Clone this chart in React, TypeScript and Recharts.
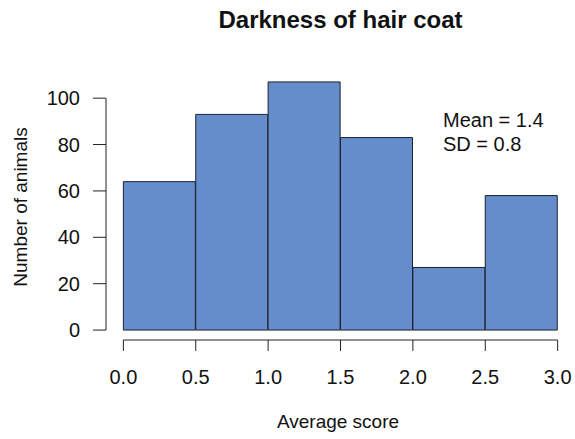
import { ComposedChart, Bar, XAxis, YAxis, ReferenceLine } from "recharts";

const binStarts = [0, 0.5, 1.0, 1.5, 2.0, 2.5];
const binWidth = 0.5;
const counts = [64, 93, 107, 83, 27, 58];
const xTicks = [0, 0.5, 1, 1.5, 2, 2.5, 3];
const yTicks = [0, 20, 40, 60, 80, 100];
const statLines = ["Mean = 1.4", "SD = 0.8"];

const title = "Darkness of hair coat";
const xTitle = "Average score";
const yTitle = "Number of animals";

const data = binStarts.map((s, i) => ({ mid: s + binWidth / 2, count: counts[i] }));

// R-style 4% range extension
const xMin = binStarts[0];
const xMax = binStarts[binStarts.length - 1] + binWidth;
const yMax = Math.max(...counts);
const xPad = (xMax - xMin) * 0.04;
const yPad = yMax * 0.04;
const xDomain = [xMin - xPad, xMax + xPad];
const yDomain = [-yPad, yMax + yPad];

const font = "'Liberation Sans', Arial, sans-serif";
const ink = "#222";

export default function App() {
  return (
    <div style={{ position: "absolute", left: 0, top: 0, width: 575, height: 439, background: "#fff", fontFamily: font }}>
      <ComposedChart
        width={575}
        height={439}
        data={data}
        margin={{ top: 72, right: 0, bottom: 0, left: 0 }}
        barCategoryGap={0}
        barGap={0}
      >
        <XAxis
          dataKey="mid"
          type="number"
          domain={xDomain}
          ticks={xTicks}
          tickFormatter={(v: number) => v.toFixed(1)}
          height={99}
          axisLine={false}
          tickLine={{ stroke: ink }}
          tickSize={11}
          tickMargin={19}
          tick={{ fill: "#111", fontSize: 20, fontFamily: font }}
          interval={0}
        />
        <YAxis
          type="number"
          domain={yDomain}
          ticks={yTicks}
          width={106}
          axisLine={false}
          tickLine={{ stroke: ink }}
          tickSize={13}
          tickMargin={13}
          tick={{ fill: "#111", fontSize: 20, fontFamily: font }}
          interval={0}
        />
        <Bar
          dataKey="count"
          fill="#658dcb"
          stroke="#1c2030"
          strokeWidth={1}
          isAnimationActive={false}
        />
        <ReferenceLine
          segment={[{ x: xDomain[0], y: yTicks[0] }, { x: xDomain[0], y: yTicks[yTicks.length - 1] }]}
          stroke={ink}
          ifOverflow="visible"
        />
        <ReferenceLine
          segment={[{ x: xTicks[0], y: yDomain[0] }, { x: xTicks[xTicks.length - 1], y: yDomain[0] }]}
          stroke={ink}
          ifOverflow="visible"
        />
      </ComposedChart>
      <svg width={575} height={439} style={{ position: "absolute", left: 0, top: 0, pointerEvents: "none" }}>
        <text x={340.5} y={28} textAnchor="middle" fontSize={24} fontWeight="bold" fill="#111" fontFamily={font}>
          {title}
        </text>
        <text x={338} y={428} textAnchor="middle" fontSize={19} fill="#111" fontFamily={font}>
          {xTitle}
        </text>
        <text x={27} y={207} textAnchor="middle" fontSize={19} fill="#111" fontFamily={font} transform="rotate(-90 27 207)">
          {yTitle}
        </text>
        {statLines.map((t, i) => (
          <text key={t} x={443} y={127 + i * 24} fontSize={20} fill="#111" fontFamily={font}>
            {t}
          </text>
        ))}
      </svg>
    </div>
  );
}
